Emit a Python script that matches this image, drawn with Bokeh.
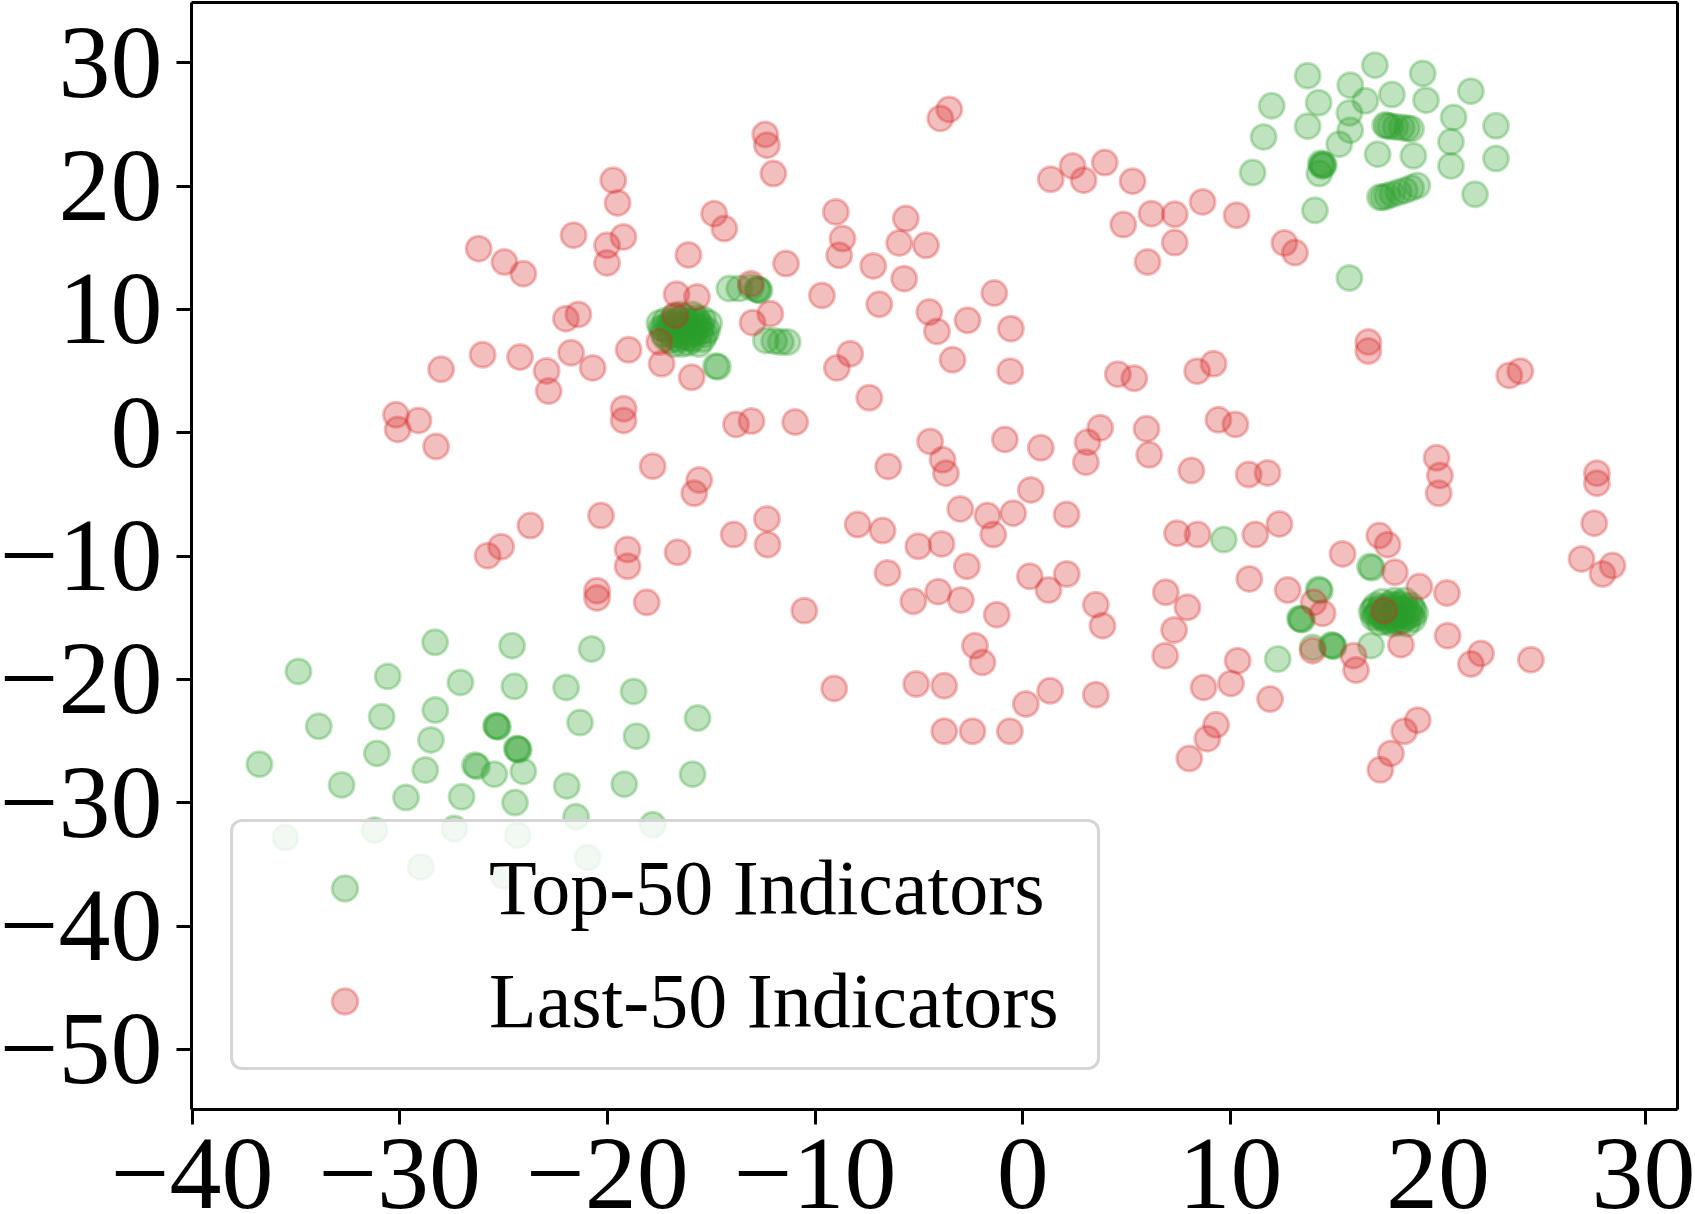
from bokeh.plotting import figure
from bokeh.models import Range1d, FixedTicker, Legend, LegendItem, ColumnDataSource, LinearAxis
from bokeh.embed import file_html
from bokeh.resources import INLINE

# ---- axis ticks ----
x_ticks = [-40, -30, -20, -10, 0, 10, 20, 30]
x_tick_labels = ["\u221240", "\u221230", "\u221220", "\u221210", "0", "10", "20", "30"]
y_ticks = [30, 20, 10, 0, -10, -20, -30, -40, -50]
y_tick_labels = ["30", "20", "10", "0", "\u221210", "\u221220", "\u221230", "\u221240", "\u221250"]

series_labels = ["Top-50 Indicators", "Last-50 Indicators"]

# ---- Top-50 indicator embeddings (x, y) ----
top50_upper_right = [
    (16.96, 29.81), (13.72, 28.95), (19.26, 29.14), (15.77, 28.19), (11.99, 26.51),
    (14.25, 26.76), (16.5, 26.92), (17.78, 27.43), (19.42, 26.97), (21.58, 27.7),
    (15.73, 25.94), (13.72, 24.86), (15.77, 24.54), (20.75, 25.57), (22.79, 24.89),
    (11.6, 23.99), (15.24, 23.4), (20.62, 23.59), (17.09, 22.59), (18.81, 22.46),
    (20.62, 21.64), (22.79, 22.24), (11.07, 21.1), (14.28, 21.02), (21.78, 19.34),
    (14.07, 18.04), (15.73, 12.55),
    (14.35, 21.85), (14.45, 21.75), (14.5, 21.7), (14.4, 21.65),
    (17.45, 24.95), (17.55, 24.9), (17.7, 24.85), (17.95, 24.8), (18.25, 24.75),
    (18.5, 24.7), (18.7, 24.65),
    (17.2, 19.1), (17.35, 19.1), (17.55, 19.2), (17.8, 19.35), (18.1, 19.5),
    (18.4, 19.65), (18.7, 19.85), (19.0, 20.05),
]
top50_upper_left = [
    (-14.13, 11.69), (-13.65, 11.69), (-13.09, 11.82), (-12.8, 11.65), (-12.74, 11.6),
    (-12.68, 11.55), (-12.37, 7.49), (-11.97, 7.44), (-11.65, 7.36), (-11.32, 7.36),
    (-14.78, 5.4), (-14.68, 5.35),
    (-16.3, 8.4), (-15.2, 8.3), (-17.4, 8.5), (-16.8, 9.4), (-15.7, 9.3), (-16.1, 7.3),
    (-17.0, 7.5), (-15.4, 7.6), (-16.6, 8.0), (-15.9, 8.9), (-17.3, 8.0), (-15.1, 8.9),
    (-16.5, 9.6), (-15.6, 7.2), (-16.9, 8.7), (-15.8, 8.1), (-16.4, 7.2), (-17.2, 9.1),
    (-15.3, 8.0), (-16.2, 9.1), (-16.8, 7.2), (-16.0, 8.5), (-16.6, 8.8), (-17.1, 8.3),
    (-15.5, 8.6), (-16.3, 7.8), (-15.9, 9.6), (-17.5, 8.9),
    (-16.3, 8.6), (-16.0, 8.0), (-16.7, 8.4), (-15.7, 8.5), (-16.5, 9.2), (-16.1, 7.7),
    (-17.0, 8.9), (-15.5, 8.2), (-16.9, 7.9), (-15.8, 9.0), (-16.4, 8.2), (-16.2, 8.8),
    (-15.4, 9.2), (-17.2, 7.7), (-16.6, 7.6), (-15.9, 7.6), (-16.8, 9.0), (-15.6, 9.0),
    (-16.3, 9.4), (-17.3, 8.4),
]
top50_lower_right = [
    (9.68, -8.66), (16.72, -10.85), (16.82, -10.95), (14.25, -12.7), (14.31, -12.8),
    (13.35, -15.05), (13.4, -15.1), (13.45, -15.15), (14.87, -17.2), (14.92, -17.26),
    (14.97, -17.32), (13.96, -17.4), (12.28, -18.35), (16.77, -17.26),
    (17.85, -14.55), (16.8, -14.5), (18.9, -14.6), (17.3, -13.7), (18.4, -13.6),
    (17.2, -15.4), (18.5, -15.5), (17.9, -13.6), (17.8, -15.5), (17.0, -14.0),
    (18.7, -14.0), (16.9, -15.0), (18.8, -15.1), (17.5, -14.3), (18.2, -14.8),
    (17.6, -14.9), (18.1, -14.2), (17.4, -15.0), (18.3, -15.2), (17.1, -14.6),
    (18.6, -14.5), (17.7, -13.9), (18.0, -15.2), (17.9, -14.6),
    (17.8, -14.3), (18.1, -14.7), (17.5, -14.7), (18.3, -14.4), (17.6, -14.1),
    (18.0, -13.9), (17.3, -14.9), (18.5, -14.9), (17.7, -15.2), (18.2, -13.9),
    (16.9, -14.3), (18.7, -14.8), (17.9, -15.0), (17.2, -14.2), (18.4, -14.2),
    (17.5, -15.3), (18.1, -15.4), (17.0, -14.8), (18.8, -14.3), (17.8, -14.8),
]
top50_lower_left = [
    (-28.3, -16.99), (-24.59, -17.26), (-20.76, -17.53), (-34.88, -19.35), (-30.58, -19.75),
    (-27.08, -20.24), (-24.48, -20.56), (-21.99, -20.65), (-18.74, -20.97), (-33.9, -23.8),
    (-30.87, -23.03), (-28.29, -22.48), (-25.37, -23.75), (-25.32, -23.8), (-25.27, -23.85),
    (-21.32, -23.5), (-15.66, -23.13), (-18.6, -24.6), (-28.5, -24.9), (-24.37, -25.6),
    (-24.32, -25.65), (-24.27, -25.7), (-36.76, -26.87), (-31.1, -26.0), (-32.8, -28.55),
    (-28.77, -27.35), (-29.7, -29.57), (-27.02, -29.52), (-26.38, -26.95), (-26.28, -27.05),
    (-25.45, -27.68), (-24.05, -27.46), (-21.96, -28.63), (-19.19, -28.49), (-24.45, -29.98),
    (-21.51, -31.14), (-17.82, -31.79), (-15.9, -27.68), (-35.51, -32.82), (-31.22, -32.22),
    (-27.37, -32.09), (-24.32, -32.63), (-28.98, -35.2), (-20.95, -34.44), (-25.0, -35.93),
]

# ---- Last-50 indicator embeddings (x, y) ----
last50_upper = [
    (-3.54, 26.22), (-3.97, 25.49), (-12.4, 24.19), (-12.32, 23.32), (-12.01, 21.02),
    (-19.72, 20.48), (-19.51, 18.64), (-21.63, 16.02), (-20.02, 15.2), (-19.23, 15.88),
    (-20.02, 13.77), (-26.2, 14.93), (-24.96, 13.85), (-24.05, 12.9), (-16.1, 14.42),
    (-14.86, 17.77), (-14.37, 16.56), (-16.67, 11.23), (-15.69, 11.01), (-22.0, 9.25),
    (-21.4, 9.6), (-16.73, 9.52), (-17.5, 7.36), (-17.39, 5.6), (-18.98, 6.73),
    (-21.75, 6.49), (-20.71, 5.26), (-24.21, 6.14), (-22.93, 5.02), (-22.83, 3.38),
    (-26.01, 6.33), (-28.01, 5.15), (-15.94, 4.5), (-13.09, 12.09), (-12.16, 9.66),
    (-13.01, 8.93), (-9.0, 17.91), (-8.68, 15.75), (-8.84, 14.39), (-5.63, 17.37),
    (-5.95, 15.39), (-4.66, 15.2), (-7.2, 13.53), (-5.71, 12.5), (-11.4, 13.72),
    (-9.67, 11.14), (-6.91, 10.42), (-4.5, 9.79), (-4.13, 8.22), (-2.66, 9.12),
    (-1.37, 11.33), (-0.57, 8.44), (-3.38, 5.92), (-0.6, 5.0), (-8.31, 6.41),
    (-8.95, 5.26), (1.35, 20.56), (2.4, 21.64), (2.93, 20.48), (3.95, 21.91),
    (5.29, 20.4), (4.84, 16.88), (6.2, 17.77), (7.32, 17.72), (7.32, 15.42),
    (6.01, 13.85), (8.66, 18.72), (10.3, 17.64), (12.6, 15.39), (13.11, 14.61),
    (16.64, 7.36), (16.64, 6.63), (4.58, 4.75), (5.37, 4.42), (8.4, 5.0),
    (9.19, 5.6), (23.43, 4.65), (23.96, 5.0),
]
last50_middle = [
    (-30.18, 1.46), (-30.1, 0.27), (-29.1, 1.0), (-28.25, -1.11), (-19.22, 1.95),
    (-19.22, 1.0), (-17.82, -2.71), (-15.58, -3.83), (-15.82, -4.9), (-23.71, -7.52),
    (-25.12, -9.23), (-25.77, -9.96), (-20.31, -6.71), (-19.03, -9.47), (-19.03, -10.82),
    (-16.62, -9.69), (-20.5, -12.8), (-20.5, -13.39), (-18.11, -13.75), (-7.39, 2.84),
    (-13.81, 0.68), (-13.06, 0.95), (-10.96, 0.87), (-4.46, -0.7), (-3.86, -2.19),
    (-3.7, -3.28), (-6.48, -2.73), (-0.86, -0.54), (0.87, -1.22), (3.12, -0.76),
    (3.73, 0.4), (3.04, -2.38), (5.96, 0.32), (6.09, -1.79), (8.12, -3.06),
    (0.39, -4.63), (-3.01, -6.17), (-1.7, -6.71), (-0.46, -6.52), (-1.42, -8.25),
    (2.11, -6.63), (-7.95, -7.44), (-6.75, -7.93), (-12.32, -6.98), (-12.29, -9.07),
    (-13.92, -8.25), (-5.03, -9.2), (-3.91, -9.01), (-2.69, -10.82), (-6.51, -11.37),
    (0.34, -11.64), (1.24, -12.75), (2.12, -11.45), (3.52, -13.94), (3.84, -15.64),
    (-5.27, -13.66), (-4.07, -12.88), (-2.98, -13.56), (-1.25, -14.75), (-10.52, -14.42),
    (7.43, -8.15), (8.42, -8.25), (6.89, -12.93), (7.93, -14.15), (7.29, -15.99),
    (6.86, -18.07), (-2.3, -17.26), (-1.94, -18.62), (-9.08, -20.73), (-5.13, -20.37),
    (-3.78, -20.51), (0.15, -21.99), (1.32, -20.92), (3.52, -21.24), (-3.78, -24.2),
    (-2.42, -24.2), (-0.62, -24.2),
]
last50_right = [
    (9.42, 1.05), (10.24, 0.68), (10.88, -3.38), (11.79, -3.25), (19.93, -2.03),
    (20.09, -3.46), (20.03, -4.9), (27.65, -3.28), (27.65, -4.09), (27.52, -7.33),
    (11.2, -8.25), (12.36, -7.39), (17.17, -8.33), (17.57, -9.07), (15.4, -9.82),
    (26.91, -10.23), (27.92, -11.45), (28.4, -10.77), (10.91, -11.85), (12.76, -12.75),
    (17.92, -11.31), (19.1, -12.47), (20.43, -12.99), (14.01, -13.75), (14.44, -14.64),
    (17.41, -14.42), (18.21, -17.18), (20.46, -16.45), (13.96, -17.67), (15.93, -18.07),
    (16.05, -19.24), (10.35, -18.48), (22.07, -17.89), (21.58, -18.75), (24.47, -18.4),
    (8.71, -20.65), (10.03, -20.32), (11.91, -21.59), (9.31, -23.68), (8.89, -24.8),
    (8.02, -26.41), (19.02, -23.3), (18.37, -24.2), (17.73, -26.0), (17.22, -27.33),
]

top50 = top50_upper_right + top50_upper_left + top50_lower_right + top50_lower_left
last50 = last50_upper + last50_middle + last50_right

top_src = ColumnDataSource(data=dict(x=[p[0] for p in top50], y=[p[1] for p in top50]))
last_src = ColumnDataSource(data=dict(x=[p[0] for p in last50], y=[p[1] for p in last50]))

GREEN = "#2ca02c"
RED = "#d62728"
FONT = "Liberation Serif"

# data limits of the boxed plotting area
X0, X1 = -40.03, 31.53
Y0, Y1 = -54.87, 34.89

# page size and where the box sits on it (pixels)
W, H = 1695, 1214
BOX_L, BOX_R, BOX_T, BOX_B = 191, 1677, 2, 1109

# The Bokeh frame fills the whole page; the ranges are widened so that the
# box edges fall at BOX_* and the axes are pinned to the box with
# fixed_location (their ticks and labels then sit in the margin around it).
dx = (X1 - X0) / (BOX_R - BOX_L)
dy = (Y1 - Y0) / (BOX_B - BOX_T)
x_range = Range1d(X0 - BOX_L * dx, X1 + (W - BOX_R) * dx)
y_range = Range1d(Y0 - (H - BOX_B) * dy, Y1 + BOX_T * dy)

p = figure(width=W, height=H, output_backend="svg", toolbar_location=None,
           title=None, x_range=x_range, y_range=y_range,
           min_border_left=0, min_border_right=0, min_border_top=0, min_border_bottom=0)
p.background_fill_color = "white"
p.border_fill_color = "white"
p.xgrid.visible = False
p.ygrid.visible = False
p.outline_line_color = None

marker_kw = dict(size=25, line_width=3, fill_alpha=0.3, line_alpha=0.3)
g = p.scatter("x", "y", source=top_src, fill_color=GREEN, line_color=GREEN, **marker_kw)
r = p.scatter("x", "y", source=last_src, fill_color=RED, line_color=RED, **marker_kw)


def style_axis(ax, ticks, labels):
    ax.ticker = FixedTicker(ticks=ticks)
    ax.major_label_overrides = {t: s for t, s in zip(ticks, labels)}
    ax.minor_tick_line_color = None
    ax.major_tick_in = 0
    ax.major_tick_out = 15
    ax.major_tick_line_width = 3
    ax.major_tick_line_color = "black"
    ax.axis_line_width = 3
    ax.axis_line_color = "black"
    ax.major_label_text_font = FONT
    ax.major_label_text_font_size = "104px"
    ax.major_label_text_color = "black"


xa = p.xaxis[0]
ya = p.yaxis[0]
style_axis(xa, x_ticks, x_tick_labels)
style_axis(ya, y_ticks, y_tick_labels)
xa.fixed_location = Y0
xa.bounds = (X0, X1)
xa.major_label_standoff = 15
ya.fixed_location = X0
ya.bounds = (Y0, Y1)
ya.major_label_standoff = 14

# top and right edges of the box
def spine(loc, bounds):
    return LinearAxis(fixed_location=loc, bounds=bounds, ticker=FixedTicker(ticks=[]),
                      major_tick_in=0, major_tick_out=0, minor_tick_in=0, minor_tick_out=0,
                      major_label_text_font_size="0px", major_label_text_alpha=0,
                      major_label_standoff=0,
                      axis_line_width=3, axis_line_color="black")

p.add_layout(spine(Y1, (X0, X1)), "above")
p.add_layout(spine(X1, (Y0, Y1)), "right")

legend = Legend(items=[LegendItem(label=series_labels[0], renderers=[g]),
                       LegendItem(label=series_labels[1], renderers=[r])],
                location=(230, H - 1070), margin=0, padding=21, spacing=23,
                glyph_width=181, glyph_height=64, label_height=90, label_width=587,
                label_standoff=54,
                label_text_font=FONT, label_text_font_size="78px", label_text_color="black",
                border_line_color="#cccccc", border_line_alpha=0.8, border_line_width=3,
                background_fill_color="white", background_fill_alpha=0.8)
if "border_radius" in Legend.properties():
    legend.border_radius = 12
p.add_layout(legend)

open("out.html", "w").write(file_html(p, INLINE))
